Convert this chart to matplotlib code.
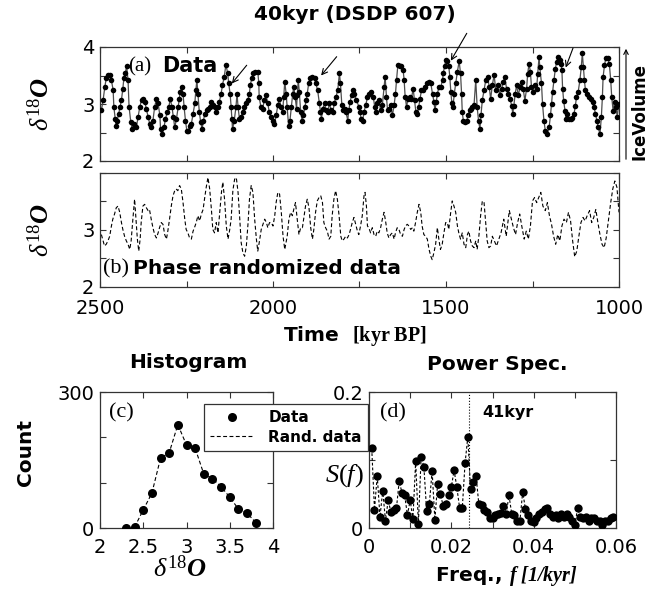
"""40 kyr world (DSDP 607): data vs phase-randomized surrogate,
histogram and power spectrum."""

import matplotlib

matplotlib.use("Agg")
import matplotlib.pyplot as plt  # noqa: E402
import numpy as np  # noqa: E402

# ---- (a) d18O record (kyr BP, permil) ----
data_time = [
    2496, 2491, 2486, 2482, 2477, 2472, 2467, 2462, 2460, 2456, 2453, 2450,
    2446, 2442, 2438, 2434, 2431, 2427, 2423, 2419, 2416, 2411, 2407, 2402,
    2395, 2390, 2385, 2380, 2376, 2371, 2366, 2361, 2356, 2352, 2347, 2342,
    2337, 2332, 2327, 2325, 2321, 2315, 2311, 2305, 2301, 2297, 2292, 2288,
    2284, 2279, 2274, 2271, 2268, 2264, 2260, 2257, 2253, 2249, 2245, 2240,
    2236, 2231, 2226, 2223, 2220, 2217, 2213, 2209, 2205, 2201, 2197, 2192,
    2188, 2183, 2178, 2173, 2168, 2164, 2159,
    2155, 2150, 2146, 2141, 2136, 2131, 2128, 2124, 2121, 2119, 2117, 2112,
    2107, 2104, 2101, 2097, 2093, 2088, 2083, 2078, 2073, 2068, 2066, 2061,
    2057, 2051, 2044, 2041, 2040, 2035, 2030, 2025, 2020, 2015, 2011, 2006,
    2001, 1996, 1991, 1986, 1982, 1977, 1972, 1969, 1966, 1962, 1959, 1955,
    1951, 1947, 1943, 1940, 1936, 1932, 1930, 1927, 1924, 1920, 1916, 1912,
    1908, 1904, 1901, 1897, 1892, 1887, 1880, 1876, 1871, 1866, 1863, 1860,
    1856, 1851, 1847, 1842, 1837, 1832, 1827, 1823, 1818, 1813, 1808, 1805,
    1801, 1797, 1793, 1789, 1784, 1781, 1777, 1773, 1769, 1765, 1760,
    1751, 1749, 1745, 1741, 1737, 1732, 1727, 1723, 1716, 1710, 1706, 1703,
    1698, 1694, 1689, 1684, 1679, 1676, 1672, 1669, 1664, 1660, 1655, 1650,
    1646, 1643, 1639, 1634, 1629, 1624, 1621, 1618, 1614, 1610, 1605, 1600,
    1595, 1591, 1587, 1583, 1579, 1575, 1571, 1566, 1562, 1556, 1549, 1544,
    1539, 1535, 1532, 1528, 1525, 1520, 1515, 1510, 1508, 1504, 1500, 1496,
    1492, 1489, 1486, 1483, 1480, 1476, 1472, 1467, 1462, 1458, 1455, 1453,
    1450, 1445, 1440, 1436, 1432, 1428, 1424, 1419, 1414, 1410, 1406, 1402,
    1399, 1395, 1390, 1385, 1380, 1375, 1371, 1366, 1361, 1356,
    1349, 1344, 1339, 1335, 1330, 1325, 1320, 1315, 1310, 1307, 1304, 1300,
    1296, 1291, 1286, 1281, 1277, 1272, 1267, 1264, 1260, 1256, 1253, 1248,
    1243, 1238, 1235, 1231, 1229, 1224, 1221, 1217, 1213, 1207, 1202, 1198,
    1195, 1192, 1188, 1184, 1180, 1176, 1171, 1168, 1165, 1163, 1160, 1156,
    1153, 1150, 1145, 1140, 1135, 1130, 1126, 1123, 1118, 1113, 1109, 1106,
    1103, 1100, 1097, 1092, 1086, 1081, 1076, 1072, 1068, 1064, 1060, 1055,
    1051, 1048, 1046, 1042, 1038, 1033, 1028, 1024, 1021, 1017, 1013, 1009,
    1005, 1001,
]
data_d18o = [
    2.89, 3.07, 3.30, 3.45, 3.51, 3.51, 3.42, 3.24, 2.95, 2.74, 2.62, 2.71,
    2.83, 2.95, 3.07, 3.27, 3.45, 3.54, 3.66, 3.42, 2.95, 2.68, 2.56, 2.65,
    2.59, 2.77, 2.95, 3.07, 3.09, 3.04, 2.92, 2.77, 2.65, 2.59, 2.71, 2.95,
    3.09, 3.01, 2.80, 2.56, 2.47, 2.59, 2.74, 2.86, 2.95, 3.09, 2.95, 2.77,
    2.59, 2.74, 2.95, 3.09, 3.21, 3.30, 3.18, 2.95, 2.71, 2.53, 2.53, 2.62,
    2.65, 2.83, 3.01, 3.24, 3.42, 3.18, 2.86, 2.68, 2.56, 2.71, 2.83, 2.89,
    2.92, 2.95, 3.04, 2.98, 2.95, 2.86, 2.95,
    3.04, 3.18, 3.33, 3.48, 3.69, 3.54, 3.36, 3.18, 2.95, 2.74, 2.56, 2.71,
    2.95, 3.18, 2.95, 2.74, 2.77, 2.86, 2.95, 3.01, 3.07, 3.18, 3.33, 3.45,
    3.54, 3.57, 3.57, 3.36, 3.12, 2.95, 2.92, 3.07, 3.15, 3.01, 2.86, 2.77,
    2.71, 2.65, 2.80, 2.98, 3.09, 2.95, 2.86, 3.12, 3.39, 3.18, 2.95, 2.62,
    2.71, 2.95, 3.18, 3.30, 3.12, 2.92, 3.15, 3.42, 3.21, 2.86, 2.71, 2.80,
    2.95, 3.07, 3.18, 3.36, 3.45, 3.48, 3.45, 3.36, 3.24, 3.01, 2.86, 2.74,
    2.92, 3.01, 2.89, 2.86, 3.01, 2.89, 2.86, 3.01, 3.12, 3.24, 3.54, 3.36,
    2.98, 2.89, 2.92, 2.86, 2.71, 2.89, 3.04, 3.15, 3.24, 3.18, 3.07,
    2.95, 2.86, 2.74, 2.71, 2.86, 2.98, 3.12, 3.18, 3.21, 3.12, 2.95, 2.86,
    3.01, 3.07, 2.89, 2.98, 3.30, 3.48, 3.12, 2.89, 2.92, 2.98, 2.80, 2.98,
    3.18, 3.42, 3.69, 3.66, 3.66, 3.60, 3.42, 3.12, 2.95, 3.09, 3.12, 3.09,
    3.27, 3.07, 2.86, 2.83, 2.95, 3.09, 3.24, 3.24, 3.30, 3.36, 3.39, 3.36,
    3.18, 3.04, 2.89, 3.04, 3.18, 3.30, 3.30, 3.42, 3.54, 3.66, 3.78, 3.75,
    3.66, 3.48, 3.21, 3.01, 2.95, 3.18, 3.36, 3.57, 3.75, 3.54, 3.18, 2.86,
    2.71, 2.68, 2.71, 2.80, 2.89, 2.92, 2.95, 2.98, 3.42, 2.95, 2.71, 2.56,
    2.80, 3.07, 3.24, 3.42, 3.48, 3.30, 3.09, 3.33, 3.51, 3.24,
    3.33, 3.15, 3.27, 3.39, 3.47, 3.27, 3.18, 3.09, 2.97, 2.83, 2.97, 3.18,
    3.33, 3.15, 3.30, 3.39, 3.27, 3.06, 3.27, 3.53, 3.71, 3.56, 3.30, 3.21,
    3.33, 3.27, 3.53, 3.83, 3.65, 3.36, 3.00, 2.71, 2.53, 2.48, 2.59, 2.80,
    3.00, 3.21, 3.42, 3.62, 3.74, 3.83, 3.77, 3.71, 3.59, 3.27, 3.06, 2.88,
    2.74, 2.83, 2.74, 2.74, 2.76, 2.83, 2.97, 3.12, 3.21, 3.42, 3.65, 3.89,
    3.65, 3.42, 3.24, 3.18, 3.12, 3.09, 3.03, 2.94, 2.83, 2.71, 2.59, 2.47,
    2.77, 3.12, 3.47, 3.68, 3.80, 3.80, 3.71, 3.42, 3.12, 2.88, 3.03, 2.94,
    2.78, 3.00,
]

# ---- (b) phase randomized surrogate ----
rand_time = [
    2496, 2491, 2487, 2482, 2477, 2472, 2467, 2463, 2458, 2453, 2448, 2443,
    2438, 2434, 2429, 2424, 2419, 2414, 2410, 2405, 2400, 2396, 2392, 2388,
    2384, 2381, 2376, 2371, 2366, 2361, 2357, 2352, 2347, 2342, 2337, 2332,
    2328, 2323, 2318, 2313, 2308, 2304, 2299, 2294, 2289, 2284, 2280, 2275,
    2270, 2265, 2260, 2255, 2251, 2246, 2241, 2236, 2231, 2227, 2222, 2217,
    2212, 2207, 2202, 2198, 2193, 2188, 2183, 2178, 2174, 2169, 2164, 2159,
    2154, 2149, 2145, 2140, 2135, 2130, 2125, 2121, 2116, 2111, 2106, 2101,
    2096, 2092, 2087, 2082, 2077, 2072, 2068, 2063, 2058, 2053, 2048, 2044,
    2039, 2034, 2029, 2024, 2019, 2015, 2010, 2005, 2000, 1995, 1991, 1986,
    1981, 1976, 1971, 1966,
    1959, 1954, 1949, 1944, 1939, 1935, 1930, 1925, 1920, 1915, 1910, 1906,
    1901, 1896, 1891, 1886, 1882, 1877, 1872, 1867, 1862, 1857, 1853, 1848,
    1843, 1838, 1833, 1829, 1824, 1819, 1814, 1809, 1804, 1800, 1795, 1790,
    1785, 1780, 1776, 1771, 1766, 1761, 1756, 1752, 1747, 1742, 1737, 1734,
    1730, 1727, 1723, 1718, 1713, 1708, 1703, 1699, 1694, 1689, 1684, 1679,
    1674, 1670, 1665, 1660, 1655, 1650, 1646, 1641, 1636, 1631, 1626, 1621,
    1617, 1612, 1607, 1602, 1597, 1593, 1588, 1583, 1578, 1573, 1569, 1564,
    1559, 1554, 1549, 1544, 1540, 1535, 1530, 1525, 1520, 1516, 1511, 1506,
    1501, 1496, 1492, 1487, 1482, 1477, 1472, 1467, 1463, 1458, 1453, 1448,
    1443, 1438, 1434, 1429, 1424, 1419, 1414, 1410, 1405, 1400, 1395, 1390,
    1386, 1381, 1376, 1371, 1366,
    1354, 1341, 1333, 1326, 1317, 1311, 1305, 1299, 1293, 1287, 1281, 1274,
    1268, 1262, 1256, 1250, 1244, 1238, 1232, 1226, 1220, 1213, 1207, 1201,
    1195, 1189, 1183, 1177, 1171, 1165, 1159, 1152, 1146, 1140, 1134, 1128,
    1122, 1116, 1110, 1104, 1098, 1092, 1085, 1079, 1073, 1067, 1061, 1055,
    1049, 1043, 1037, 1030, 1024, 1018, 1012, 1006, 1000,
]
rand_d18o = [
    2.92, 2.81, 2.72, 2.75, 2.81, 2.89, 3.07, 3.19, 3.28, 3.39, 3.42, 3.31,
    3.13, 3.01, 2.89, 2.81, 2.75, 2.66, 2.81, 3.19, 3.54, 3.19, 2.84, 2.63,
    2.84, 3.13, 3.42, 3.45, 3.39, 3.34, 3.36, 3.19, 3.04, 2.92, 2.86, 2.95,
    3.04, 3.13, 3.10, 2.92, 2.84, 2.98, 3.19, 3.42, 3.60, 3.69, 3.72, 3.69,
    3.78, 3.72, 3.48, 3.19, 3.01, 2.95, 2.86, 2.84, 2.98, 3.04, 3.13, 3.25,
    3.16, 3.28, 3.36, 3.54, 3.75, 3.92, 3.72, 3.36, 3.01, 2.95, 3.13, 2.95,
    3.31, 3.66, 3.84, 3.54, 3.07, 2.84, 3.01, 3.19, 3.69, 3.89, 3.92, 3.66,
    3.19, 2.78, 2.60, 2.54, 2.72, 3.13, 3.54, 3.78, 3.66, 3.19, 2.84, 2.63,
    2.81, 3.01, 3.10, 3.19, 3.13, 3.04, 3.13, 3.13, 3.07, 3.25, 3.48, 3.66,
    3.63, 3.31, 2.89, 2.66,
    2.89, 3.19, 3.31, 3.25, 3.39, 3.48, 3.19, 2.92, 3.04, 3.04, 3.25, 3.42,
    3.54, 3.39, 3.04, 2.84, 3.01, 3.31, 3.51, 3.57, 3.60, 3.48, 3.13, 3.04,
    2.98, 2.84, 2.89, 3.25, 3.54, 3.69, 3.54, 3.25, 2.89, 2.81, 2.84, 2.89,
    2.86, 2.92, 3.01, 3.13, 3.22, 3.10, 2.98, 2.92, 3.07, 3.25, 3.60, 3.66,
    3.42, 3.07, 3.04, 2.95, 3.04, 2.92, 2.89, 2.98, 2.95, 3.04, 3.19, 3.31,
    3.13, 2.95, 2.86, 2.92, 2.95, 2.84, 2.95, 3.04, 3.01, 2.92, 2.89, 3.01,
    3.07, 3.10, 3.07, 3.01, 3.04, 2.98, 3.13, 3.31, 3.45, 3.31, 3.07, 2.92,
    2.89, 2.84, 2.66, 2.54, 2.48, 2.60, 2.75, 3.04, 2.81, 2.66, 2.75, 2.95,
    3.13, 3.13, 3.01, 3.28, 3.51, 3.42, 3.31, 3.07, 2.95, 2.84, 2.95, 2.75,
    2.69, 2.92, 2.98, 2.81, 2.72, 2.69, 2.81, 2.66, 2.89, 3.25, 3.51, 3.48,
    3.19, 2.81, 2.69, 2.72, 2.89,
    2.72, 2.95, 3.19, 2.89, 3.34, 3.19, 3.04, 2.92, 3.13, 3.28, 3.07, 2.84,
    2.98, 2.84, 3.07, 3.51, 3.57, 3.48, 3.57, 3.66, 3.42, 3.34, 3.48, 3.25,
    3.10, 2.89, 2.75, 2.92, 2.81, 3.07, 3.19, 3.13, 3.31, 3.16, 2.81, 2.53,
    2.63, 2.89, 3.13, 3.22, 3.16, 3.25, 3.34, 3.13, 3.22, 3.36, 3.13, 2.92,
    2.75, 2.69, 2.86, 3.19, 3.48, 3.72, 3.86, 3.75, 3.31,
]

# ---- (c) histogram of d18O ----
hist_bins = [2.3, 2.4, 2.5, 2.6, 2.7, 2.8, 2.9, 3.0, 3.1, 3.2, 3.3, 3.4,
             3.5, 3.6, 3.7, 3.8]
hist_counts = [0, 2, 40, 77, 154, 166, 228, 183, 176, 119, 109, 91,
               68, 42, 33, 12]
rand_bins = [2.4, 2.5, 2.6, 2.7, 2.8, 2.9, 3.0, 3.1, 3.2, 3.3, 3.4, 3.5,
             3.6, 3.7, 3.8]
rand_counts = [2, 40, 77, 154, 166, 228, 183, 176, 119, 109, 91, 68,
               42, 33, 12]

# ---- (d) power spectrum, frequency grid k / 1500 kyr ----
spec_k = np.arange(1, 90)
power_data = [
    0.117, 0.027, 0.077, 0.016, 0.055, 0.011, 0.041, 0.023, 0.027, 0.029,
    0.069, 0.052, 0.048, 0.019, 0.041, 0.013, 0.098, 0.006, 0.105, 0.090,
    0.025, 0.036, 0.084, 0.012, 0.065, 0.050, 0.033, 0.035, 0.048, 0.060,
    0.085, 0.060, 0.030, 0.030, 0.095, 0.134, 0.058, 0.068, 0.077, 0.036,
    0.034, 0.027, 0.024, 0.015, 0.015, 0.019, 0.021, 0.022, 0.033, 0.021,
    0.048, 0.021, 0.019, 0.011, 0.011, 0.053, 0.028, 0.019, 0.011, 0.009,
    0.014, 0.021, 0.024, 0.028, 0.029, 0.021, 0.016, 0.019, 0.015, 0.021,
    0.016, 0.021, 0.016, 0.011, 0.004, 0.029, 0.016, 0.014, 0.016, 0.011,
    0.014, 0.015, 0.011, 0.011, 0.004, 0.011, 0.010, 0.014, 0.016,
]
power_rand = list(power_data)  # phase randomization keeps the amplitudes
obliquity_period = 41

# arrows marking the large glacials in (a): (tail, head) in (kyr, permil)
arrow_tails = [(2076, 3.68), (1816, 3.83), (1440, 4.24), (1133, 3.98)]
arrow_heads = [(2119, 3.36), (1861, 3.50), (1486, 3.76), (1154, 3.64)]

W, H = 655, 591
SERIF = "Liberation Serif"
BOLD = 14.5


def fx(px):
    return px / W


def fy(py):
    return 1 - py / H


def style(ax, xpad=4):
    for s in ax.spines.values():
        s.set_color("#333333")
        s.set_linewidth(0.9)
    ax.tick_params(direction="in", top=True, right=True, length=4,
                   width=0.8, colors="#333333", labelcolor="k",
                   labelsize=14, pad=4)
    ax.tick_params(axis="x", pad=xpad)


def main() -> None:
    plt.rcParams.update({
        "font.family": "DejaVu Sans",
        "mathtext.fontset": "custom",
        "mathtext.rm": SERIF,
        "mathtext.it": SERIF + ":italic",
        "mathtext.bf": SERIF + ":bold",
        "mathtext.bfit": SERIF + ":bold:italic",
    })
    d18o = r"$\delta^{\mathit{18}}\mathbfit{O}$"

    fig = plt.figure(figsize=(W / 100, H / 100), dpi=100)
    ax_a = fig.add_axes([fx(100), fy(161), fx(519), 114 / H])
    ax_b = fig.add_axes([fx(100), fy(287), fx(519), 114 / H])
    ax_c = fig.add_axes([fx(100), fy(528), fx(173), 136 / H])
    ax_d = fig.add_axes([fx(369), fy(528), fx(247), 136 / H])

    # (a) data
    ax_a.plot(data_time, data_d18o, color="0.3", lw=0.9, zorder=2)
    ax_a.plot(data_time, data_d18o, "o", color="k", ms=4, mew=0, zorder=3)
    for (t0, v0), (t1, v1) in zip(arrow_tails, arrow_heads):
        ax_a.annotate("", xy=(t1, v1), xytext=(t0, v0),
                      arrowprops=dict(arrowstyle="->", lw=0.8, color="k",
                                      shrinkA=0, shrinkB=0),
                      annotation_clip=False)
    ax_a.text(0.055, 0.83, "(a)", transform=ax_a.transAxes, family=SERIF,
              fontsize=15, va="center")
    ax_a.text(0.12, 0.83, "Data", transform=ax_a.transAxes,
              fontweight="bold", fontsize=15, va="center")

    # (b) surrogate
    ax_b.plot(rand_time, rand_d18o, color="k", lw=0.8, ls=(0, (3.5, 2.2)))
    ax_b.text(0.006, 0.16, "(b)", transform=ax_b.transAxes, family=SERIF,
              fontsize=16, va="center")
    ax_b.text(0.064, 0.16, "Phase randomized data", transform=ax_b.transAxes,
              fontweight="bold", fontsize=BOLD, va="center")

    for ax in (ax_a, ax_b):
        ax.set_xlim(2500, 1000)
        ax.set_ylim(2, 4)
        ax.set_xticks([2500, 2250, 2000, 1750, 1500, 1250, 1000])
        ax.set_yticks([2, 2.5, 3, 3.5, 4])
        style(ax, xpad=9)
    ax_a.set_xticklabels([])
    ax_a.set_yticklabels(["2", "", "3", "", "4"])
    ax_b.set_xticklabels(["2500", "", "2000", "", "1500", "", "1000"])
    ax_b.set_yticklabels(["2", "", "3", "", ""])

    fig.text(fx(42), fy(104), d18o, rotation=90, ha="center", va="center",
             fontsize=19)
    fig.text(fx(42), fy(230), d18o, rotation=90, ha="center", va="center",
             fontsize=19)
    fig.text(fx(355), fy(14), "40kyr (DSDP 607)", ha="center", va="center",
             fontsize=BOLD, fontweight="bold")
    fig.text(fx(355), fy(336), r"Time  $\mathbf{[kyr\ BP]}$", ha="center",
             va="center", fontsize=BOLD, fontweight="bold")
    fig.text(fx(639), fy(112), "IceVolume", rotation=90, ha="center",
             va="center", fontsize=12, fontweight="bold")
    fig.add_artist(matplotlib.patches.FancyArrowPatch(
        (fx(626), fy(162)), (fx(626), fy(46)), transform=fig.transFigure,
        arrowstyle="->", mutation_scale=8, lw=0.8, color="k"))

    # (c) histogram
    ax_c.plot(rand_bins, rand_counts, color="k", lw=0.8, ls=(0, (3.5, 2.2)),
              label="Rand. data", zorder=2)
    ax_c.plot(hist_bins, hist_counts, "o", color="k", ms=6.5, mew=0,
              label="Data", zorder=3)
    ax_c.set_xlim(2, 4)
    ax_c.set_ylim(0, 300)
    ax_c.set_xticks([2, 2.5, 3, 3.5, 4])
    ax_c.set_xticklabels(["2", "2.5", "3", "3.5", "4"])
    ax_c.set_yticks([0, 100, 200, 300])
    ax_c.set_yticklabels(["0", "", "", "300"])
    style(ax_c, xpad=7)
    ax_c.text(0.05, 0.85, "(c)", transform=ax_c.transAxes, family=SERIF,
              fontsize=16, va="center")
    fig.text(fx(188), fy(363), "Histogram", ha="center", va="center",
             fontsize=BOLD, fontweight="bold")
    fig.text(fx(25), fy(452), "Count", rotation=90, ha="center",
             va="center", fontsize=BOLD, fontweight="bold")
    fig.text(fx(180), fy(570), d18o, ha="center", va="center", fontsize=19)

    h, lab = ax_c.get_legend_handles_labels()
    leg = fig.legend(h[::-1], lab[::-1], loc="upper left",
                     bbox_to_anchor=(fx(204), fy(404)), borderaxespad=0,
                     frameon=True, fancybox=False, handlelength=2.8,
                     handletextpad=1.0, borderpad=0.4, labelspacing=0.3,
                     prop=dict(weight="bold", size=11))
    leg.get_frame().set_edgecolor("#333333")
    leg.get_frame().set_linewidth(0.9)
    leg.get_frame().set_alpha(1)
    leg.set_zorder(5)

    # (d) power spectrum
    freq = spec_k / 1500.0
    ax_d.plot(freq, power_rand, color="k", lw=0.8, ls=(0, (2.5, 1.8)),
              zorder=2)
    ax_d.plot(freq, power_data, "o", color="k", ms=6, mew=0, zorder=3)
    ax_d.axvline(1 / obliquity_period, color="k", lw=0.8, ls=":", zorder=1)
    ax_d.set_xlim(0, 0.06)
    ax_d.set_ylim(0, 0.2)
    ax_d.set_xticks([0, 0.01, 0.02, 0.03, 0.04, 0.05, 0.06])
    ax_d.set_xticklabels(["0", "", "0.02", "", "0.04", "", "0.06"])
    ax_d.set_yticks([0, 0.1, 0.2])
    ax_d.set_yticklabels(["0", "", "0.2"])
    style(ax_d, xpad=7)
    ax_d.text(0.045, 0.85, "(d)", transform=ax_d.transAxes, family=SERIF,
              fontsize=16, va="center")
    ax_d.text(0.46, 0.85, f"{obliquity_period}kyr", transform=ax_d.transAxes,
              fontsize=11.5, fontweight="bold", va="center")
    fig.text(fx(497), fy(364), "Power Spec.", ha="center", va="center",
             fontsize=BOLD, fontweight="bold")
    fig.text(fx(344), fy(476), r"$\mathit{S(f)}$", ha="center", va="center",
             fontsize=19)
    fig.text(fx(506), fy(576), r"Freq., $\mathbfit{f\ [1/kyr]}$",
             ha="center", va="center", fontsize=BOLD, fontweight="bold")

    fig.savefig("out.png", dpi=100)
    plt.close(fig)


if __name__ == "__main__":
    main()
